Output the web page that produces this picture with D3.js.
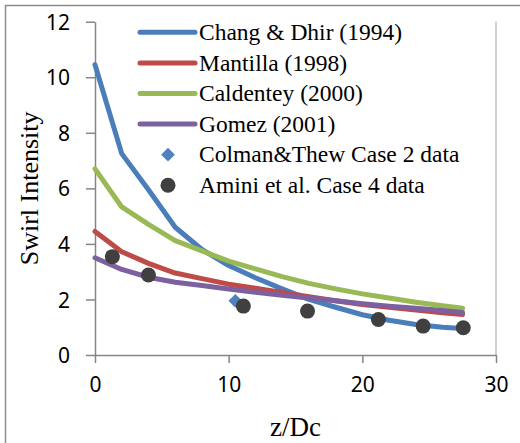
<!DOCTYPE html>
<html>
<head>
<meta charset="UTF-8">
<script src="https://d3js.org/d3.v7.min.js"></script>
<style>
  body { margin: 0; background: #fff; }
</style>
</head>
<body>
<div id="chart"></div>
<script>
  // distance along the pipe (z/Dc) where the correlations are evaluated
  const zModel = [0, 2, 4, 6, 8, 10, 12, 14, 16, 18, 20, 22, 24, 26, 27.5];

  const changDhir = [10.45, 7.25, 5.95, 4.6, 3.8, 3.22, 2.78, 2.38, 2.0, 1.72, 1.45, 1.25, 1.1, 1.0, 0.95];
  const mantilla  = [4.45, 3.72, 3.3, 2.95, 2.75, 2.55, 2.4, 2.25, 2.1, 1.95, 1.82, 1.72, 1.62, 1.52, 1.46];
  const caldentey = [6.7, 5.33, 4.7, 4.12, 3.75, 3.38, 3.1, 2.82, 2.58, 2.38, 2.2, 2.05, 1.9, 1.77, 1.68];
  const gomez     = [3.5, 3.08, 2.8, 2.62, 2.5, 2.38, 2.26, 2.15, 2.05, 1.95, 1.85, 1.76, 1.68, 1.6, 1.53];

  // measured points
  const colmanZ = [10.5];
  const colmanS = [1.95];
  const aminiZ = [1.3, 4.0, 11.1, 15.9, 21.2, 24.55, 27.55];
  const aminiS = [3.54, 2.88, 1.76, 1.58, 1.28, 1.04, 0.98];

  const xTicks = [0, 10, 20, 30];
  const yTicks = [0, 2, 4, 6, 8, 10, 12];

  const W = 520, H = 443;
  const svg = d3.select('#chart').append('svg')
    .attr('width', W).attr('height', H);

  // chart area border (runs off the right/bottom edge like the picture)
  svg.append('rect')
    .attr('x', 5.5).attr('y', 5.5)
    .attr('width', 600).attr('height', 600)
    .attr('fill', '#fff')
    .attr('stroke', '#8c8c8c')
    .attr('stroke-width', 1.5);

  const x = d3.scaleLinear().domain([0, 30]).range([95, 496]);
  const y = d3.scaleLinear().domain([0, 12]).range([355, 21.7]);

  // plot area right edge
  svg.append('line')
    .attr('x1', x(30)).attr('x2', x(30))
    .attr('y1', y(12)).attr('y2', y(0))
    .attr('stroke', '#bfbfbf').attr('stroke-width', 1.5);

  const tickFont = '"Noto Sans", sans-serif';
  const serif = '"Liberation Serif", "Times New Roman", serif';

  // axes
  const xAxis = svg.append('g')
    .attr('transform', `translate(0,${y(0)})`)
    .call(d3.axisBottom(x).tickValues(xTicks).tickSize(8).tickPadding(14).tickSizeOuter(0));
  const yAxis = svg.append('g')
    .attr('transform', `translate(${x(0)},0)`)
    .call(d3.axisLeft(y).tickValues(yTicks).tickSize(9).tickPadding(16).tickSizeOuter(0));

  [xAxis, yAxis].forEach(g => {
    g.select('.domain').attr('stroke', '#868686').attr('stroke-width', 1.5);
    g.selectAll('.tick line').attr('stroke', '#868686').attr('stroke-width', 1.5);
    g.selectAll('.tick text')
      .attr('fill', '#000')
      .style('font-family', tickFont)
      .style('font-size', '21px');
  });
  yAxis.selectAll('.tick text').attr('dy', '0.36em');

  // axis titles
  svg.append('text')
    .attr('x', (x(0) + x(30)) / 2).attr('y', 436)
    .attr('text-anchor', 'middle')
    .style('font-family', serif).style('font-size', '27px')
    .text('z/Dc');
  svg.append('text')
    .attr('transform', `translate(38,${(y(0) + y(12)) / 2}) rotate(-90)`)
    .attr('text-anchor', 'middle')
    .style('font-family', serif).style('font-size', '26px')
    .text('Swirl Intensity');

  const series = [
    { name: 'Chang & Dhir (1994)', values: changDhir, color: '#4a7ebb' },
    { name: 'Mantilla (1998)', values: mantilla, color: '#be4b48' },
    { name: 'Caldentey (2000)', values: caldentey, color: '#98b954' },
    { name: 'Gomez (2001)', values: gomez, color: '#7d60a0' }
  ];

  const line = d3.line()
    .x(d => x(d[0]))
    .y(d => y(d[1]));

  series.forEach(s => {
    svg.append('path')
      .datum(zModel.map((z, i) => [z, s.values[i]]))
      .attr('d', line)
      .attr('fill', 'none')
      .attr('stroke', s.color)
      .attr('stroke-width', 5)
      .attr('stroke-linejoin', 'round')
      .attr('stroke-linecap', 'round');
  });

  const diamond = d3.symbol().type(d3.symbolDiamond2).size(120);

  svg.selectAll('.colman')
    .data(colmanZ.map((z, i) => [z, colmanS[i]]))
    .join('path')
    .attr('transform', d => `translate(${x(d[0])},${y(d[1])})`)
    .attr('d', diamond)
    .attr('fill', '#4f81bd');

  svg.selectAll('.amini')
    .data(aminiZ.map((z, i) => [z, aminiS[i]]))
    .join('circle')
    .attr('cx', d => x(d[0]))
    .attr('cy', d => y(d[1]))
    .attr('r', 7.5)
    .attr('fill', '#404040');

  // legend
  const legend = svg.append('g');
  const rowY = i => 32.3 + i * 30.6;
  series.forEach((s, i) => {
    legend.append('line')
      .attr('x1', 140).attr('x2', 195)
      .attr('y1', rowY(i)).attr('y2', rowY(i))
      .attr('stroke', s.color).attr('stroke-width', 5)
      .attr('stroke-linecap', 'round');
  });
  legend.append('path')
    .attr('transform', `translate(168,${rowY(4)})`)
    .attr('d', diamond)
    .attr('fill', '#4f81bd');
  legend.append('circle')
    .attr('cx', 168).attr('cy', rowY(5)).attr('r', 7.5)
    .attr('fill', '#404040');

  const labels = series.map(s => s.name)
    .concat(['Colman&Thew Case 2 data', 'Amini et al. Case 4 data']);
  labels.forEach((t, i) => {
    legend.append('text')
      .attr('x', 199).attr('y', rowY(i))
      .attr('dy', '0.33em')
      .style('font-family', serif).style('font-size', '23.5px')
      .text(t);
  });
</script>
</body>
</html>
